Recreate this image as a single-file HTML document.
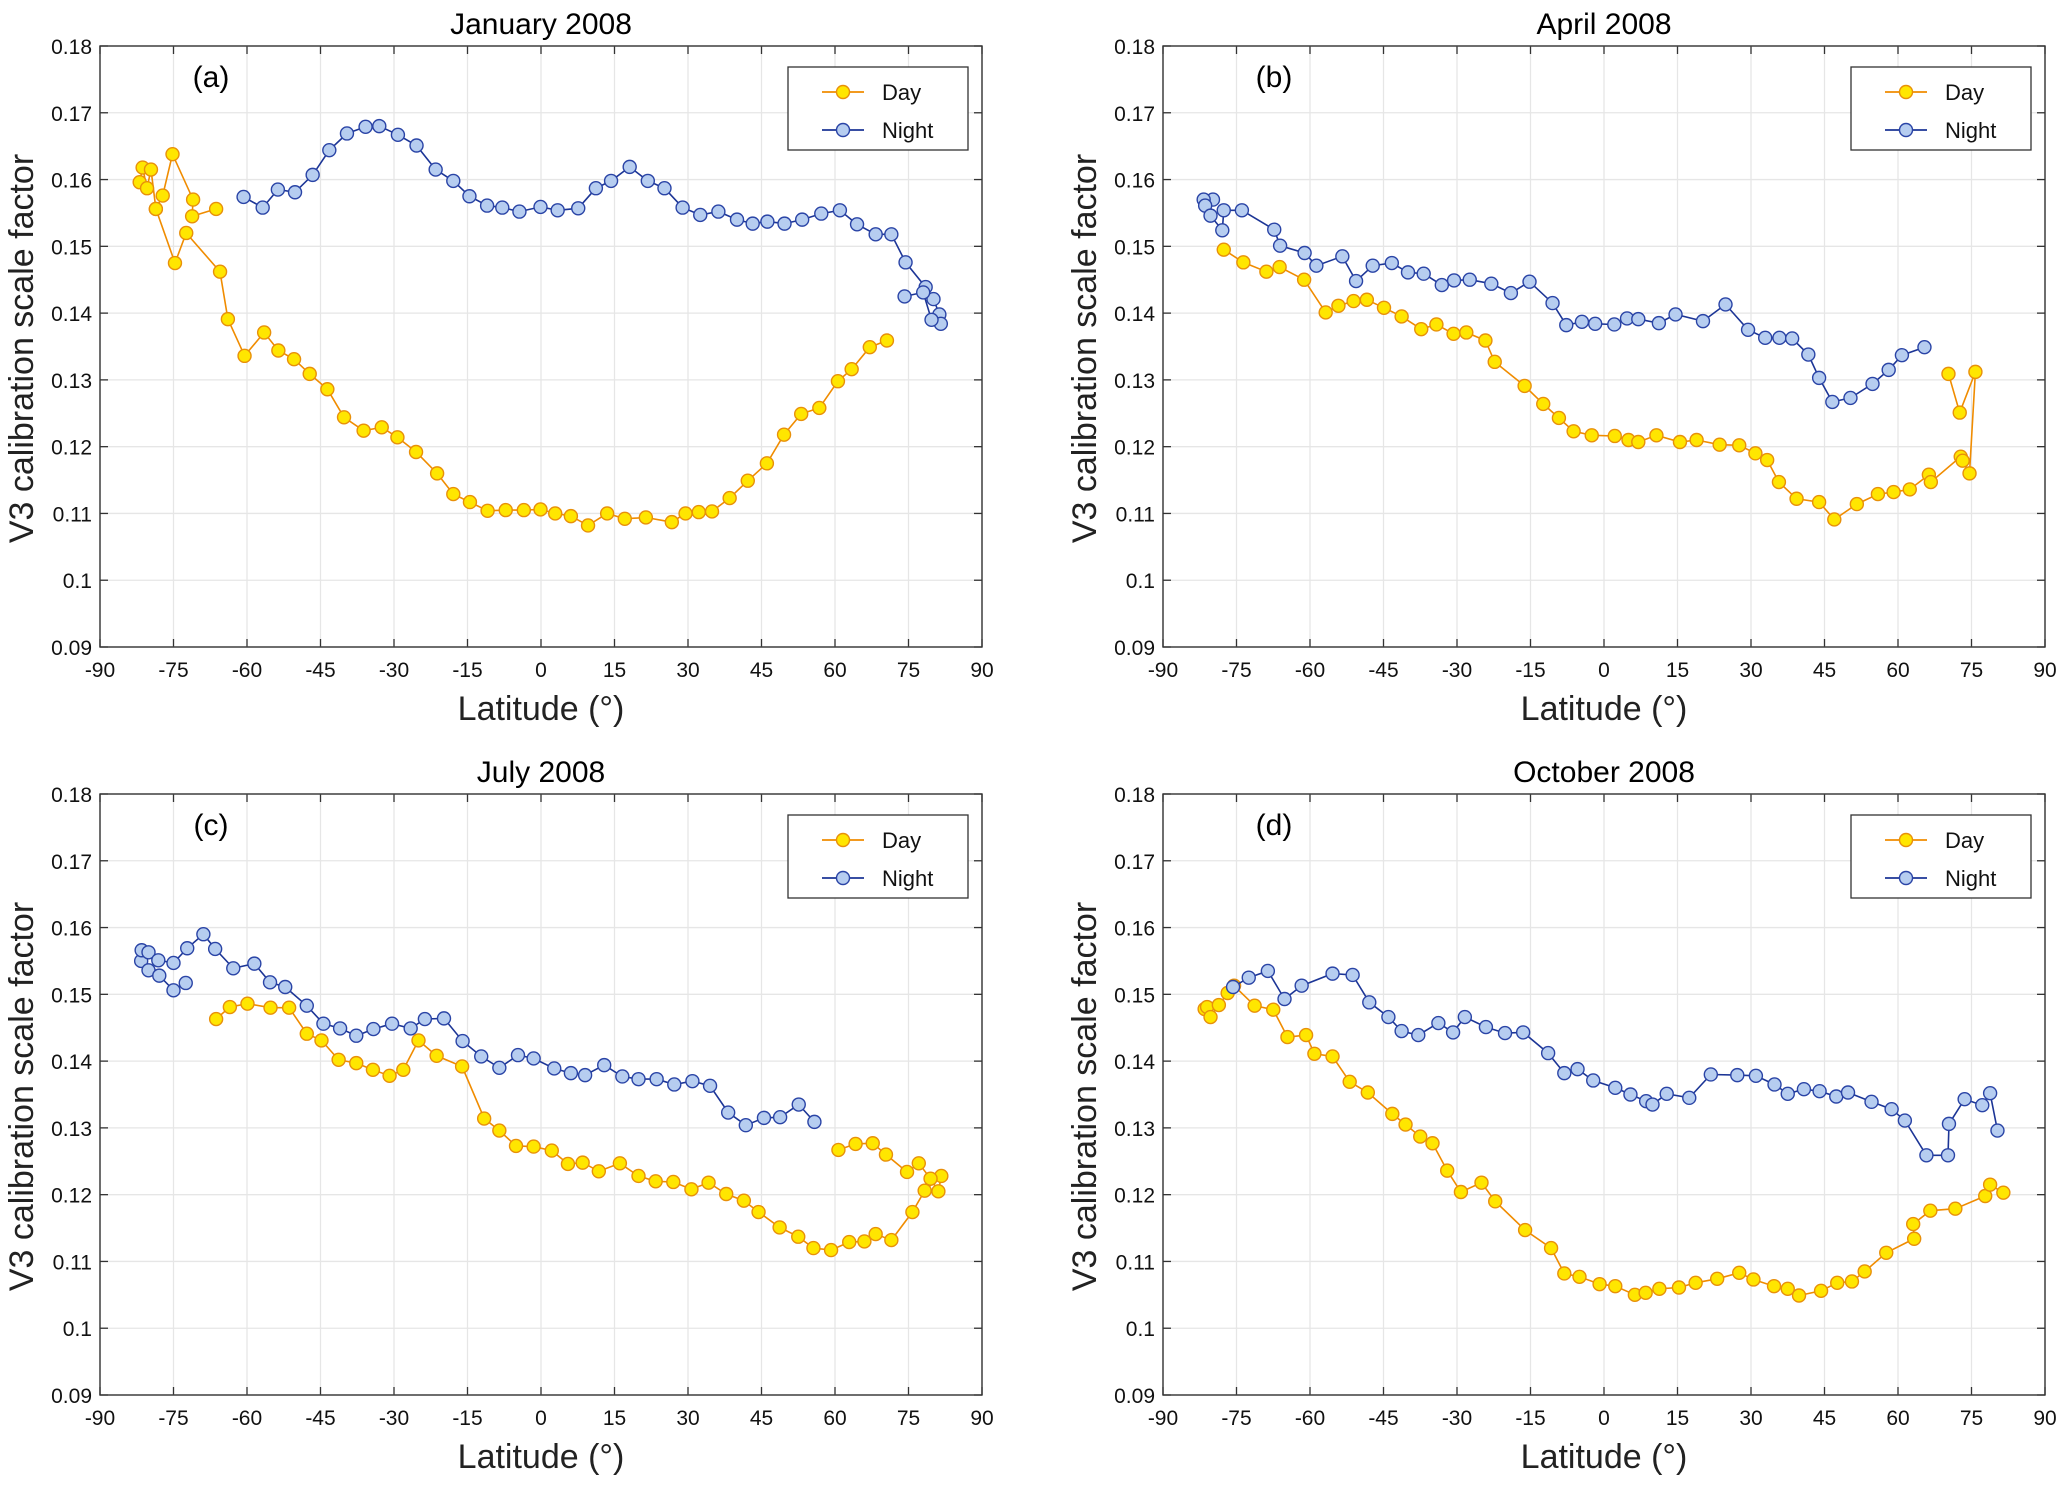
<!DOCTYPE html>
<html><head><meta charset="utf-8">
<style>
body{margin:0;background:#fff;}
svg{display:block;font-family:"Liberation Sans",Arial,sans-serif;}
</style></head>
<body>
<svg id="fig" width="2067" height="1485" viewBox="0 0 2067 1485" xmlns="http://www.w3.org/2000/svg"></svg>
<script>
const xTicks=[-90,-75,-60,-45,-30,-15,0,15,30,45,60,75,90];
const yTicks=[0.09,0.1,0.11,0.12,0.13,0.14,0.15,0.16,0.17,0.18];
const yTickLabels=["0.09","0.1","0.11","0.12","0.13","0.14","0.15","0.16","0.17","0.18"];
const panelTitles=["January 2008","April 2008","July 2008","October 2008"];
const panelLetters=["(a)","(b)","(c)","(d)"];
// null = break in the line
const dayA=[[-81.9,.1596],[-81.3,.1618],[-80.4,.1587],[-79.6,.1615],[-78.6,.1556],[-74.7,.1475],[-72.4,.1520],[-65.5,.1462],[-63.9,.1391],[-60.5,.1336],[-56.5,.1371],[-53.6,.1344],[-50.4,.1331],[-47.2,.1309],[-43.6,.1286],[-40.2,.1244],[-36.2,.1224],[-32.5,.1229],[-29.3,.1214],[-25.5,.1192],[-21.2,.1160],[-17.9,.1129],[-14.5,.1117],[-10.9,.1104],[-7.2,.1105],[-3.5,.1105],[-0.1,.1106],[2.9,.1100],[6.1,.1096],[9.6,.1082],[13.5,.1100],[17.1,.1092],[21.4,.1094],[26.7,.1087],[29.5,.1100],[32.2,.1102],[34.9,.1103],[38.5,.1123],[42.2,.1149],[46.1,.1175],[49.6,.1218],[53.1,.1249],[56.8,.1258],[60.6,.1298],[63.4,.1316],[67.1,.1349],[70.6,.1359],null,[-78.6,.1556],[-77.2,.1576],[-75.2,.1638],[-71.0,.1570],[-71.2,.1545],[-66.3,.1556]];
const nightA=[[-60.7,.1574],[-56.8,.1558],[-53.7,.1585],[-50.2,.1581],[-46.6,.1607],[-43.2,.1644],[-39.6,.1669],[-35.8,.1679],[-33.0,.1680],[-29.2,.1667],[-25.4,.1651],[-21.5,.1615],[-17.9,.1598],[-14.6,.1575],[-11.0,.1561],[-7.9,.1558],[-4.4,.1552],[-0.1,.1559],[3.4,.1554],[7.6,.1557],[11.2,.1587],[14.3,.1598],[18.1,.1619],[21.8,.1598],[25.2,.1587],[28.9,.1558],[32.5,.1547],[36.2,.1552],[40.0,.1540],[43.2,.1534],[46.2,.1537],[49.7,.1534],[53.3,.1540],[57.2,.1549],[61.0,.1554],[64.5,.1533],[68.3,.1518],[71.5,.1518],[74.4,.1476],[78.5,.1439],[80.1,.1421],[81.3,.1398],[81.6,.1384],[79.7,.1390],[78.0,.1431],[74.2,.1425]];
const dayB=[[-77.6,.1495],[-73.6,.1476],[-68.9,.1462],[-66.2,.1469],[-61.2,.1450],[-56.8,.1401],[-54.2,.1411],[-51.1,.1418],[-48.4,.1420],[-44.9,.1408],[-41.3,.1395],[-37.3,.1376],[-34.2,.1383],[-30.7,.1369],[-28.1,.1371],[-24.2,.1359],[-22.3,.1327],[-16.2,.1291],[-12.4,.1264],[-9.2,.1243],[-6.2,.1223],[-2.5,.1217],[2.2,.1216],[5.0,.1210],[7.0,.1207],[10.7,.1217],[15.5,.1207],[18.9,.1210],[23.6,.1203],[27.6,.1202],[30.9,.1190],[33.3,.1180],[35.7,.1147],[39.3,.1122],[43.9,.1117],[47.0,.1091],[51.6,.1114],[55.9,.1129],[59.1,.1132],[62.4,.1136],[66.3,.1158],[66.7,.1147],[72.8,.1185],[73.2,.1179],[74.6,.1160],[75.8,.1312],[72.6,.1251],[70.3,.1309]];
const nightB=[[-79.8,.1570],[-81.7,.1570],[-81.4,.1561],[-80.3,.1546],[-77.9,.1524],[-77.6,.1554],[-73.9,.1554],[-67.3,.1525],[-66.1,.1501],[-61.1,.1490],[-58.7,.1471],[-53.4,.1485],[-50.6,.1448],[-47.2,.1471],[-43.3,.1475],[-40.0,.1461],[-36.8,.1459],[-33.1,.1442],[-30.6,.1449],[-27.4,.1450],[-23.0,.1444],[-19.0,.1430],[-15.2,.1447],[-10.5,.1415],[-7.7,.1382],[-4.5,.1387],[-1.8,.1384],[2.1,.1383],[4.7,.1392],[7.0,.1391],[11.2,.1385],[14.6,.1398],[20.2,.1388],[24.8,.1413],[29.4,.1375],[32.9,.1363],[35.8,.1363],[38.4,.1362],[41.7,.1338],[43.9,.1303],[46.6,.1267],[50.3,.1273],[54.8,.1294],[58.1,.1315],[60.8,.1337],[65.4,.1349]];
const dayC=[[-66.3,.1463],[-63.5,.1481],[-59.9,.1486],[-55.2,.1480],[-51.4,.1480],[-47.8,.1441],[-44.8,.1431],[-41.3,.1402],[-37.7,.1397],[-34.3,.1387],[-30.9,.1378],[-28.1,.1387],[-25.0,.1431],[-21.3,.1408],[-16.1,.1392],[-11.6,.1314],[-8.5,.1296],[-5.1,.1273],[-1.5,.1272],[2.2,.1266],[5.5,.1246],[8.5,.1248],[11.8,.1235],[16.1,.1247],[19.9,.1228],[23.4,.1220],[27.0,.1219],[30.7,.1208],[34.2,.1218],[37.8,.1201],[41.4,.1191],[44.4,.1174],[48.7,.1151],[52.5,.1137],[55.6,.1120],[59.2,.1117],[62.9,.1129],[66.0,.1130],[68.3,.1141],[71.5,.1132],[75.8,.1174],[78.3,.1206],[81.7,.1228],[81.1,.1205],[79.5,.1224],[77.1,.1247],[74.7,.1234],[70.4,.1260],[67.7,.1277],[64.2,.1276],[60.7,.1267]];
const nightC=[[-81.6,.1550],[-80.1,.1536],[-77.9,.1528],[-75.0,.1506],[-72.5,.1517],null,[-81.5,.1566],[-80.1,.1563],[-78.1,.1551],[-75.0,.1547],[-72.2,.1569],[-68.9,.1590],[-66.5,.1568],[-62.8,.1539],[-58.5,.1546],[-55.3,.1518],[-52.2,.1511],[-47.8,.1483],[-44.4,.1456],[-41.0,.1449],[-37.7,.1438],[-34.2,.1448],[-30.4,.1456],[-26.6,.1449],[-23.7,.1463],[-19.8,.1464],[-16.0,.1430],[-12.2,.1407],[-8.5,.1390],[-4.7,.1409],[-1.5,.1404],[2.7,.1389],[6.1,.1382],[9.0,.1379],[12.9,.1394],[16.6,.1377],[19.9,.1373],[23.6,.1373],[27.2,.1365],[30.9,.1370],[34.5,.1363],[38.2,.1323],[41.8,.1304],[45.5,.1315],[48.8,.1316],[52.6,.1335],[55.8,.1309]];
const dayD=[[-81.5,.1478],[-81.0,.1481],[-80.3,.1466],[-78.6,.1484],[-76.8,.1502],[-75.5,.1513],[-71.3,.1483],[-67.5,.1477],[-64.6,.1436],[-60.8,.1439],[-59.1,.1411],[-55.4,.1407],[-51.9,.1369],[-48.2,.1353],[-43.2,.1321],[-40.5,.1305],[-37.5,.1287],[-35.0,.1277],[-32.0,.1236],[-29.2,.1204],[-25.0,.1218],[-22.2,.1190],[-16.1,.1147],[-10.8,.1120],[-8.1,.1082],[-5.0,.1077],[-0.9,.1066],[2.3,.1063],[6.3,.1050],[8.5,.1053],[11.3,.1059],[15.3,.1061],[18.7,.1068],[23.1,.1074],[27.6,.1083],[30.5,.1073],[34.7,.1063],[37.5,.1059],[39.8,.1049],[44.3,.1056],[47.6,.1068],[50.6,.1070],[53.2,.1085],[57.6,.1113],[63.3,.1134],[63.1,.1156],[66.6,.1176],[71.7,.1179],[77.8,.1198],[78.8,.1215],[81.5,.1203]];
const nightD=[[-75.7,.1511],[-72.5,.1525],[-68.6,.1535],[-65.2,.1493],[-61.7,.1513],[-55.4,.1531],[-51.3,.1529],[-47.9,.1488],[-44.0,.1466],[-41.3,.1445],[-37.9,.1439],[-33.8,.1457],[-30.8,.1443],[-28.4,.1466],[-24.1,.1451],[-20.2,.1442],[-16.5,.1443],[-11.4,.1412],[-8.1,.1382],[-5.4,.1388],[-2.2,.1371],[2.3,.1360],[5.4,.1350],[8.6,.1340],[9.9,.1335],[12.8,.1351],[17.4,.1345],[21.8,.1380],[27.2,.1379],[31.0,.1378],[34.8,.1365],[37.5,.1351],[40.8,.1358],[44.0,.1355],[47.4,.1347],[49.8,.1353],[54.6,.1339],[58.7,.1328],[61.4,.1311],[65.8,.1259],[70.2,.1259],[70.4,.1306],[73.6,.1343],[77.2,.1334],[78.8,.1352],[80.3,.1296]];

const daySeries=[dayA,dayB,dayC,dayD];
const nightSeries=[nightA,nightB,nightC,nightD];
const NS="http://www.w3.org/2000/svg";
const svg=document.getElementById('fig');
function mk(tag,attrs,parent,text){const e=document.createElementNS(NS,tag);for(const k in attrs)e.setAttribute(k,attrs[k]);if(text!==undefined)e.textContent=text;parent.appendChild(e);return e;}
const boxes=[{l:100,t:46,w:882,h:601},{l:1163,t:46,w:882,h:601},{l:100,t:794,w:882,h:601},{l:1163,t:794,w:882,h:601}];
const DAY={line:"#f08c00",fill:"#ffe600",stroke:"#e8900a"};
const NIGHT={line:"#1c3596",fill:"#b6cdf0",stroke:"#2a44a6"};

boxes.forEach((b,i)=>{
  const g=mk('g',{},svg);
  
  
  const xs=v=>b.l+(v+90)/180*b.w;
  const ys=v=>b.t+b.h-(v-0.09)/0.09*b.h;
  mk('rect',{x:b.l,y:b.t,width:b.w,height:b.h,fill:'#fff'},g);
  const grid=mk('g',{},g);
  
  
  xTicks.forEach(t=>{const x=xs(t);mk('line',{x1:x,x2:x,y1:b.t,y2:b.t+b.h,stroke:'#e6e6e6','stroke-width':1.3},grid);
    mk('line',{x1:x,x2:x,y1:b.t+b.h,y2:b.t+b.h-8,stroke:'#333','stroke-width':1.3},grid);
    mk('line',{x1:x,x2:x,y1:b.t,y2:b.t+8,stroke:'#333','stroke-width':1.3},grid);
    const tl=mk('text',{x:x,y:b.t+b.h+30,'text-anchor':'middle','font-size':21,fill:'#111'},g,String(t));
    
    
  });
  yTicks.forEach((t,k)=>{const y=ys(t);mk('line',{x1:b.l,x2:b.l+b.w,y1:y,y2:y,stroke:'#e6e6e6','stroke-width':1.3},grid);
    mk('line',{x1:b.l,x2:b.l+8,y1:y,y2:y,stroke:'#333','stroke-width':1.3},grid);
    mk('line',{x1:b.l+b.w,x2:b.l+b.w-8,y1:y,y2:y,stroke:'#333','stroke-width':1.3},grid);
    const tl=mk('text',{x:b.l-8,y:y+8,'text-anchor':'end','font-size':21,fill:'#111'},g,yTickLabels[k]);
    
    
  });
  mk('rect',{x:b.l,y:b.t,width:b.w,height:b.h,fill:'none',stroke:'#333','stroke-width':1.4},g);
  const tt=mk('text',{x:b.l+b.w/2,y:b.t-12,'text-anchor':'middle','font-size':30,fill:'#000'},g,panelTitles[i]);
  
  
  const xl=mk('text',{x:b.l+b.w/2,y:b.t+b.h+73,'text-anchor':'middle','font-size':34,fill:'#222'},g,'Latitude (°)');
  
  
  const yl=mk('text',{x:0,y:0,'text-anchor':'middle','font-size':34,fill:'#222',transform:`translate(${b.l-67},${b.t+b.h/2+2}) rotate(-90)`},g,'V3 calibration scale factor');
  
  
  const lt=mk('text',{x:b.l+111,y:b.t+41,'text-anchor':'middle','font-size':30,fill:'#000'},g,panelLetters[i]);
  
  

  [[daySeries[i],DAY,'day'],[nightSeries[i],NIGHT,'night']].forEach(([data,st,nm])=>{
    const sg=mk('g',{},g);
    
    
    let d='',pen=false;
    data.forEach(p=>{if(!p){pen=false;return;}d+=(pen?'L':'M')+xs(p[0]).toFixed(1)+' '+ys(p[1]).toFixed(1);pen=true;});
    const ln=mk('path',{d:d,fill:'none',stroke:st.line,'stroke-width':1.6},sg);
    
    
    data.forEach(p=>{if(!p)return;
      const c=mk('circle',{cx:xs(p[0]),cy:ys(p[1]),r:6.5,fill:st.fill,stroke:st.stroke,'stroke-width':1.4},sg);
      
      
    });
  });

  const lg=mk('g',{},g);
  
  
  const lx=b.l+688,ly=b.t+21;
  mk('rect',{x:lx,y:ly,width:180,height:83,fill:'#fff',stroke:'#333','stroke-width':1.3},lg);
  [[DAY,'Day',25],[NIGHT,'Night',63]].forEach(([st,lab,dy])=>{
    const e=mk('g',{},lg);
    
    
    mk('line',{x1:lx+34,x2:lx+76,y1:ly+dy,y2:ly+dy,stroke:st.line,'stroke-width':1.8},e);
    mk('circle',{cx:lx+55,cy:ly+dy,r:6.5,fill:st.fill,stroke:st.stroke,'stroke-width':1.4},e);
    mk('text',{x:lx+94,y:ly+dy+8,'font-size':22,fill:'#111'},e,lab);
  });
});
</script>
</body></html>
